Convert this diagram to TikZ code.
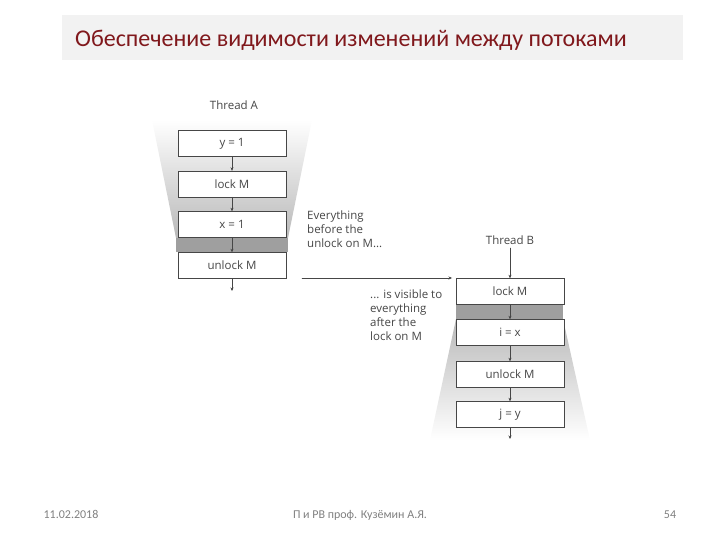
\documentclass[tikz,border=0pt]{standalone}
\usepackage{fontspec}
\setmainfont{Carlito}
\newfontfamily\figfont{Open Sans}
\usetikzlibrary{arrows.meta}
\definecolor{titlered}{RGB}{128,24,28}
\definecolor{bargray}{RGB}{242,242,242}
\definecolor{linegray}{RGB}{70,70,70}

\tikzset{
  opbox/.style={draw=linegray,fill=white,minimum width=108pt,minimum height=26pt,inner sep=0pt,font=\figfont\fontsize{11.5}{14}\selectfont,text=linegray},
  lbl/.style={font=\figfont\fontsize{11.5}{14}\selectfont,text=linegray},
  note/.style={font=\figfont\fontsize{11.5}{14}\selectfont,text=linegray,align=left,anchor=north west,inner sep=0pt},
  foot/.style={font=\fontsize{12}{14}\selectfont,text=gray,anchor=base,inner sep=0pt}
}

\begin{document}
\begin{tikzpicture}[x=1pt,y=-1pt,>={Stealth[length=3.5pt,width=3pt]},line cap=round]
\useasboundingbox (0,0) rectangle (720,540);
% title bar
\fill[bargray] (62,15) rectangle (683,60);
\node[anchor=west,text=titlered,font=\fontsize{24}{28}\selectfont,inner sep=0pt] (title) at (75,40) {Обеспечение видимости изменений между потоками};

% thread A funnel
\shade[top color=white,bottom color=gray!55] (152,120) -- (312,120) -- (288,238) -- (176,238) -- cycle;
\fill[gray!75] (176,238) rectangle (288,252);

% thread B funnel
\fill[gray!75] (456,305) rectangle (563,319);
\shade[top color=gray!55,bottom color=white] (456,319) -- (563,319) -- (590,440) -- (430,440) -- cycle;

% thread A
\node[lbl] (ta) at (234,105) {Thread A};
\node[opbox] (a1) at (232,143.5) {y = 1};
\node[opbox] (a2) at (232,184) {lock M};
\node[opbox] (a3) at (232,224.5) {x = 1};
\node[opbox] (a4) at (232,265.5) {unlock M};
\coordinate (aend) at (232,291);
\draw[->,linegray] (a1) -- (a2);
\draw[->,linegray] (a2) -- (a3);
\draw[->,linegray] (a3) -- (a4);
\draw[->,linegray] (a4) -- (aend);

% thread B
\node[lbl] (tb) at (510,240) {Thread B};
\node[opbox] (b1) at (510,291.5) {lock M};
\node[opbox] (b2) at (510,332.5) {i = x};
\node[opbox] (b3) at (510,374.5) {unlock M};
\node[opbox] (b4) at (510,414.5) {j = y};
\coordinate (bend) at (510,439);
\draw[->,linegray] (tb) -- (b1);
\draw[->,linegray] (b1) -- (b2);
\draw[->,linegray] (b2) -- (b3);
\draw[->,linegray] (b3) -- (b4);
\draw[->,linegray] (b4) -- (bend);

% hand-over
\coordinate (hfrom) at (302,278);
\coordinate (hto) at (452,278);
\draw[->,linegray] (hfrom) -- (hto);
\node[note] (n1) at (307,211) {Everything\\before the\\unlock on M...};
\node[note] (n2) at (370,290) {... is visible to\\everything\\after the\\lock on M};

% footer
\node[foot] (date) at (71,518) {11.02.2018};
\node[foot] (auth) at (360,518) {П и РВ проф. Кузёмин А.Я.};
\node[foot] (page) at (670,518) {54};
\end{tikzpicture}
\end{document}
